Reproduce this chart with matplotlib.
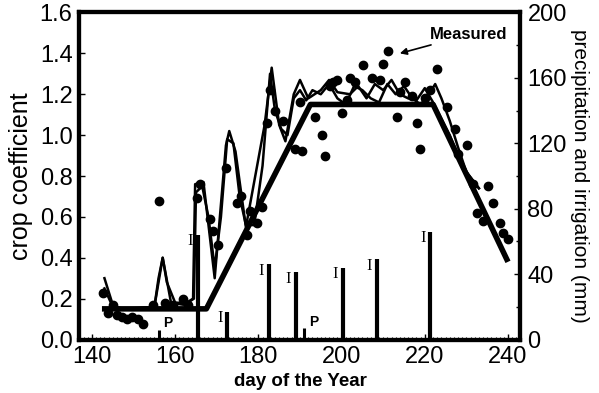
import matplotlib
matplotlib.use('Agg')
import matplotlib.pyplot as plt
import numpy as np

plt.rcParams['font.family'] = ['Liberation Sans', 'DejaVu Sans']

# measured crop coefficient
meas_day = [142.6, 143.8, 145, 146, 147.3, 148.4, 149.6, 151, 152.3, 154.7, 156.1,
            157.5, 159.5, 161.9, 163, 165.2, 166, 168.4, 169, 170.2, 172.3, 174.9,
            175.8, 177.2, 178, 179.7, 180.9, 182, 182.8, 184, 185.9, 188.8, 190,
            190.5, 193.6, 195.3, 196, 197.2, 198, 198.9, 200, 201.3, 202, 203.2,
            205.1, 207.3, 209.2, 210, 211.2, 213.3, 214, 215.2, 217, 218.1, 218.8,
            220, 221.3, 222.9, 225.3, 227.3, 228, 230.1, 231.6, 232.5, 234, 235.2,
            236.4, 238, 238.8, 240]
meas_kc = [0.23, 0.13, 0.17, 0.12, 0.11, 0.10, 0.11, 0.10, 0.075, 0.17, 0.68,
           0.18, 0.17, 0.20, 0.17, 0.69, 0.76, 0.59, 0.53, 0.46, 0.84, 0.67,
           0.70, 0.51, 0.63, 0.57, 0.65, 1.06, 1.22, 1.12, 1.07, 0.93, 1.16,
           0.92, 1.09, 1.00, 0.90, 1.24, 1.26, 1.27, 1.11, 1.17, 1.28, 1.26,
           1.345, 1.28, 1.27, 1.35, 1.41, 1.09, 1.21, 1.26, 1.19, 1.06, 0.93,
           1.18, 1.22, 1.325, 1.14, 1.03, 0.91, 0.95, 0.76, 0.62, 0.58, 0.75,
           0.67, 0.57, 0.52, 0.49]

# FAO style Kc curve (thick)
fao_day = [142.4, 167.5, 192.5, 222, 240]
fao_kc = [0.15, 0.15, 1.15, 1.15, 0.38]

# simulated curve 1 (angular)
sim1_day = [143, 145, 147, 150, 155, 157, 159, 162, 164.3, 164.8, 166.8, 169.5,
            172.2, 173, 174.5, 177, 181.5, 183.2, 185, 186.5, 188.5, 190, 192,
            195, 197, 199, 202, 204, 206, 208, 210, 212, 214, 216, 218, 220, 222,
            224, 226, 228, 230, 233]
sim1_kc = [0.30, 0.17, 0.15, 0.15, 0.16, 0.40, 0.18, 0.17, 0.20, 0.76, 0.77, 0.30,
           0.95, 1.02, 0.92, 0.55, 1.05, 1.33, 1.05, 0.97, 1.20, 1.27, 1.18,
           1.22, 1.27, 1.21, 1.20, 1.24, 1.18, 1.25, 1.22, 1.27, 1.20, 1.18, 1.17,
           1.23, 1.16, 1.08, 1.00, 0.90, 0.82, 0.74]

# simulated curve 2 (smoother)
sim2_day = [143, 145, 148, 155, 156, 157, 158, 160, 163, 164.5, 165, 166.5, 168,
            169.5, 171, 172.5, 174, 175.5, 177, 179, 181, 182.8, 184, 185.5, 187,
            188.5, 190, 191.5, 193, 195, 197, 199, 201, 203, 205, 207, 209, 211,
            213, 215, 217, 219, 221, 222.5, 224, 226, 228, 230, 233]
sim2_kc = [0.25, 0.16, 0.15, 0.16, 0.30, 0.40, 0.28, 0.18, 0.18, 0.20, 0.72, 0.75,
           0.60, 0.35, 0.60, 0.98, 0.96, 0.70, 0.56, 0.56, 0.85, 1.30, 1.12, 1.03,
           1.00, 1.18, 1.22, 1.17, 1.22, 1.20, 1.25, 1.18, 1.15, 1.24, 1.22, 1.18,
           1.16, 1.25, 1.20, 1.24, 1.18, 1.15, 1.20, 1.25, 1.18, 1.07, 0.94, 0.82,
           0.74]

# irrigation (I) and precipitation (P), mm
irr_day = [165.5, 172.5, 182.5, 189, 200.3, 208.5, 221.3]
irr_mm = [64, 17, 46, 41, 44, 49, 66]
prec_day = [156, 191]
prec_mm = [6, 7]

fig = plt.figure(figsize=(5.99, 3.93), dpi=100)
ax = fig.add_axes([0.1327, 0.1361, 0.7362, 0.8321])
ax2 = ax.twinx()

ax.plot(fao_day, fao_kc, color='black', lw=4, solid_capstyle='butt', zorder=3)
ax.plot(sim1_day, sim1_kc, color='black', lw=1.8, zorder=3)
ax.plot(sim2_day, sim2_kc, color='black', lw=1.8, zorder=3)
ax.plot(meas_day, meas_kc, 'o', color='black', ms=6, zorder=4)

ax2.vlines(irr_day, 0, irr_mm, color='black', lw=3)
ax2.vlines(prec_day, 0, prec_mm, color='black', lw=2.2)
for d, v in zip(irr_day, irr_mm):
    ax2.text(d - 1.8, v - 4, 'I', family='Liberation Serif', fontsize=12,
             ha='center', va='center')
for d, v in zip(prec_day, prec_mm):
    ax2.text(d + 2.2, v + 4, 'P', fontsize=10, fontweight='bold',
             ha='center', va='center')

ax.set_xlim(137, 243)
ax.set_ylim(0, 1.6)
ax2.set_ylim(0, 200)
ax.set_xticks([140, 160, 180, 200, 220, 240])
ax.set_xticks(np.arange(137, 244, 1), minor=True)
ax.set_yticks(np.arange(0, 1.61, 0.2))
ax.set_yticklabels(['%.1f' % v for v in np.arange(0, 1.61, 0.2)])
ax2.set_yticks([0, 40, 80, 120, 160, 200])
ax2.set_yticks(np.arange(0, 201, 20), minor=True)

ax.tick_params(axis='both', which='major', direction='in', length=4, width=1,
               labelsize=17, pad=5)
ax.tick_params(axis='x', which='minor', direction='in', length=2, width=0.8)
ax.tick_params(axis='y', which='minor', left=False)
ax2.tick_params(axis='y', which='major', direction='in', length=4, width=1,
                labelsize=17, pad=5)
ax2.tick_params(axis='y', which='minor', direction='in', length=3, width=1)

for a in (ax, ax2):
    for s in a.spines.values():
        s.set_linewidth(3)

ax.set_xlabel('day of the Year', fontsize=13.5, fontweight='bold', labelpad=3)
ax.set_ylabel('crop coefficient', fontsize=18, labelpad=5)
ax2.set_ylabel('precipitation and irrigation (mm)', fontsize=15, rotation=270,
               labelpad=16)

ax.annotate('Measured', xy=(214, 1.40), xytext=(221.3, 1.455),
            fontsize=12, fontweight='bold', ha='left', va='bottom',
            arrowprops=dict(arrowstyle='-|>', color='black', lw=1.2,
                            mutation_scale=10, shrinkA=0, shrinkB=0))

fig.savefig('out.png', dpi=100)
